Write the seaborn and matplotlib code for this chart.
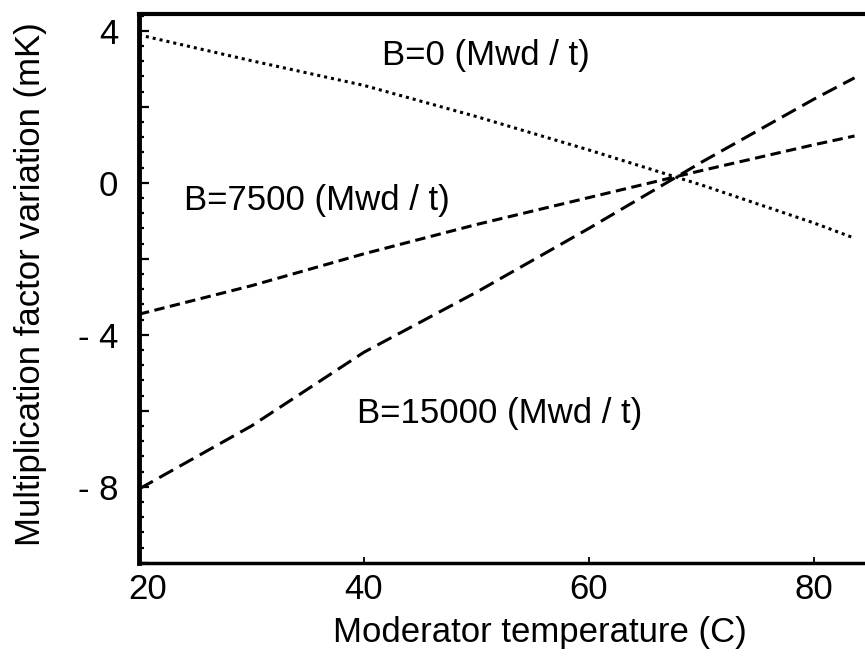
import matplotlib
matplotlib.use("Agg")
import matplotlib.pyplot as plt
import matplotlib.transforms as mtransforms
import seaborn as sns
from matplotlib.ticker import FixedLocator, MultipleLocator, FuncFormatter

# Moderator temperature (C) and multiplication factor variation (mK) per burnup
temperature = [20, 30, 40, 50, 60, 70, 80, 83.6]
k_burnup_0 = [3.89, 3.21, 2.56, 1.74, 0.86, -0.06, -1.06, -1.46]
k_burnup_7500 = [-3.46, -2.71, -1.87, -1.10, -0.39, 0.32, 1.00, 1.23]
k_burnup_15000 = [-8.06, -6.40, -4.46, -2.88, -1.20, 0.54, 2.20, 2.76]

curve_labels = ["B=0 (Mwd / t)", "B=7500 (Mwd / t)", "B=15000 (Mwd / t)"]
x_ticks = [20, 40, 60, 80]
y_tick_text = {4: "4", 0: "0", -4: "- 4", -8: "- 8"}

sns.set_style("white")
plt.rcParams["font.family"] = ["Liberation Sans", "DejaVu Sans"]
for key in ("text.color", "axes.labelcolor", "xtick.color", "ytick.color", "axes.edgecolor"):
    plt.rcParams[key] = "black"

fig = plt.figure(figsize=(8.65, 6.63), dpi=100)
ax = fig.add_axes([0.1607, 0.1501, 0.8393, 0.8288])

styles = [
    (k_burnup_0, 2.2, (1.0, 1.3)),
    (k_burnup_7500, 2.2, (3.4, 1.8)),
    (k_burnup_15000, 2.2, (5.2, 2.4)),
]
for values, lw, dash in styles:
    sns.lineplot(x=temperature, y=values, color="black", linewidth=lw, ax=ax)
    ax.lines[-1].set_dashes(dash)

ax.set_xlim(20, 84.53)
ax.set_ylim(-10.02, 4.44)

ax.spines["right"].set_visible(False)
ax.spines["left"].set_linewidth(3.5)
ax.spines["top"].set_linewidth(3.0)
ax.spines["bottom"].set_linewidth(2.5)

ax.xaxis.set_major_locator(FixedLocator(x_ticks))
ax.yaxis.set_major_locator(MultipleLocator(2))
ax.yaxis.set_minor_locator(MultipleLocator(0.4))
ax.yaxis.set_major_formatter(
    FuncFormatter(lambda v, pos: y_tick_text.get(int(round(v)), "") if abs(v - round(v)) < 1e-6 else "")
)
ax.tick_params(axis="x", which="major", direction="in", length=4, width=1.3,
               pad=7, labelsize=25, bottom=True, top=False)
ax.tick_params(axis="y", which="major", direction="in", length=7, width=1.6,
               pad=15, labelsize=25, left=True, right=False)
ax.tick_params(axis="y", which="minor", direction="in", length=3.5, width=1.6,
               left=True, right=False)

# nudge the first x tick label clear of the thick left spine
first = ax.xaxis.get_major_ticks()[0].label1
first.set_transform(first.get_transform()
                    + mtransforms.ScaledTranslation(0.09, 0, fig.dpi_scale_trans))

ax.set_xlabel("Moderator temperature (C)", fontsize=25)
ax.xaxis.set_label_coords(0.552, -0.0955)
ax.set_ylabel("Multiplication factor variation (mK)", fontsize=25)
ax.yaxis.set_label_coords(-0.1267, 0.5086)

label_spots = [(0.3347, 0.9071), (0.0620, 0.6433), (0.3003, 0.2557)]
for text, (tx, ty) in zip(curve_labels, label_spots):
    ax.text(tx, ty, text, transform=ax.transAxes, fontsize=25,
            ha="left", va="baseline")

fig.savefig("out.png", dpi=100)
